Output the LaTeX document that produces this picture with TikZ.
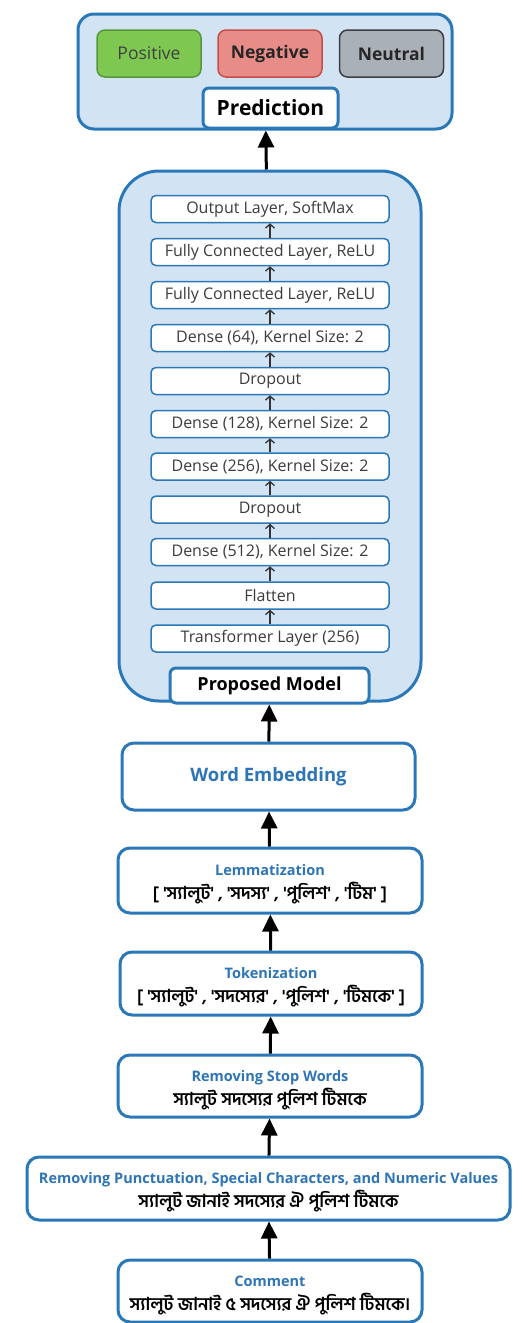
\documentclass[tikz,border=0pt]{standalone}
\usepackage{fontspec}
\setmainfont{Open Sans}
\newfontfamily\bnfont[Script=Bengali]{Hind Siliguri}
\usetikzlibrary{arrows.meta}

\definecolor{edgeblue}{RGB}{43,120,184}
\definecolor{boxfill}{RGB}{210,228,244}
\definecolor{titleblue}{RGB}{46,117,182}
\definecolor{textgray}{RGB}{60,60,60}
\definecolor{posfill}{RGB}{126,200,82}
\definecolor{posedge}{RGB}{88,150,60}
\definecolor{negfill}{RGB}{232,140,135}
\definecolor{negedge}{RGB}{196,78,74}
\definecolor{neufill}{RGB}{170,176,184}
\definecolor{neuedge}{RGB}{60,64,70}

\newcommand{\stagetitle}[1]{{\rule{0pt}{19pt}\bfseries\color{titleblue}#1}}
\newcommand{\bnline}[1]{{\bnfont\bfseries\fontsize{17.8}{20}\selectfont #1}}

\tikzset{
  layer/.style={draw=edgeblue, line width=1.5pt, fill=white, rounded corners=5pt,
    minimum width=238pt, minimum height=27pt, inner sep=0pt,
    font=\fontsize{16}{18}\selectfont, text=textgray},
  stage/.style={draw=edgeblue, line width=3pt, fill=white, rounded corners=12pt,
    minimum width=304pt, minimum height=63pt, inner sep=0pt, align=center,
    font=\fontsize{14.5}{24}\selectfont},
  label/.style={draw, line width=1.5pt, rounded corners=8pt, minimum width=104pt,
    minimum height=47pt, inner sep=0pt, font=\fontsize{17.5}{19}\selectfont},
  bigarrow/.style={line width=3pt, -{Triangle[length=17pt,width=16pt]}},
  smallarrow/.style={line width=1.3pt, draw=black!80, -{Straight Barb[length=4pt,width=9pt]}},
}

\begin{document}
\begin{tikzpicture}[x=1pt, y=-1pt]
\useasboundingbox (0,0) rectangle (522,1323);

% prediction block
\node[draw=edgeblue, fill=boxfill, line width=3pt, rounded corners=16pt,
  minimum width=374pt, minimum height=115pt] (out) at (265,71.5) {};
\node[label, draw=posedge, fill=posfill, text=black!75] (pos) at (149,53.5) {Positive};
\node[label, draw=negedge, fill=negfill, font=\fontsize{17.5}{19}\selectfont\bfseries, text=black!85] (neg) at (270,53.5) {Negative};
\node[label, draw=neuedge, fill=neufill, font=\fontsize{17.5}{19}\selectfont\bfseries, text=black!85] (neu) at (391.5,53.5) {Neutral};
\node[draw=edgeblue, fill=white, line width=3pt, rounded corners=6pt,
  minimum width=135pt, minimum height=40pt, inner sep=0pt,
  font=\fontsize{21}{23}\selectfont\bfseries] (pred) at (270.5,108) {Prediction};

% proposed model
\node[draw=edgeblue, fill=boxfill, line width=3pt, rounded corners=40pt,
  minimum width=302pt, minimum height=530pt] (model) at (270,436) {};
\node[layer] (l11) at (270,209) {Output Layer, SoftMax};
\node[layer] (l10) at (270,252) {Fully Connected Layer, ReLU};
\node[layer] (l9) at (270,295) {Fully Connected Layer, ReLU};
\node[layer] (l8) at (270,338) {Dense (64), Kernel Size: 2};
\node[layer] (l7) at (270,381) {Dropout};
\node[layer] (l6) at (270,424) {Dense (128), Kernel Size: 2};
\node[layer] (l5) at (270,466.5) {Dense (256), Kernel Size: 2};
\node[layer] (l4) at (270,509.5) {Dropout};
\node[layer] (l3) at (270,552) {Dense (512), Kernel Size: 2};
\node[layer] (l2) at (270,595.5) {Flatten};
\node[layer] (l1) at (270,638.5) {Transformer Layer (256)};
\node[draw=edgeblue, fill=white, line width=3pt, rounded corners=6pt,
  minimum width=199pt, minimum height=35pt, inner sep=0pt,
  font=\fontsize{18}{20}\selectfont\bfseries] (pm) at (269.5,685.5) {Proposed Model};

\path[smallarrow] (l1) -- (l2);
\path[smallarrow] (l2) -- (l3);
\path[smallarrow] (l3) -- (l4);
\path[smallarrow] (l4) -- (l5);
\path[smallarrow] (l5) -- (l6);
\path[smallarrow] (l6) -- (l7);
\path[smallarrow] (l7) -- (l8);
\path[smallarrow] (l8) -- (l9);
\path[smallarrow] (l9) -- (l10);
\path[smallarrow] (l10) -- (l11);

% preprocessing stages
\node[stage, minimum width=293pt, minimum height=67pt,
  font=\fontsize{18.5}{20}\selectfont\bfseries, text=titleblue] (emb) at (268.5,776.5) {Word Embedding};
\node[stage, minimum height=65pt] (lem) at (270,880.5)
  {\stagetitle{Lemmatization}\\\bnline{[ 'স্যালুট' , 'সদস্য' , 'পুলিশ' , 'টিম' ]}};
\node[stage, minimum width=302pt] (tok) at (271,983.5)
  {\stagetitle{Tokenization}\\\bnline{[ 'স্যালুট' , 'সদস্যের' , 'পুলিশ' , 'টিমকে' ]}};
\node[stage, minimum height=62pt] (stop) at (270,1086)
  {\stagetitle{Removing Stop Words}\\\bnline{স্যালুট সদস্যের পুলিশ টিমকে}};
\node[stage, minimum width=483pt] (punct) at (268.5,1188.5)
  {\stagetitle{Removing Punctuation, Special Characters, and Numeric Values}\\\bnline{স্যালুট জানাই সদস্যের ঐ পুলিশ টিমকে}};
\node[stage, minimum height=62pt] (com) at (270,1291)
  {\stagetitle{Comment}\\\bnline{স্যালুট জানাই ৫ সদস্যের ঐ পুলিশ টিমকে।}};

\path[draw,bigarrow] (com) -- (punct);
\path[draw,bigarrow] (punct) -- (stop);
\path[draw,bigarrow] (stop) -- (tok);
\path[draw,bigarrow] (tok) -- (lem);
\path[draw,bigarrow] (lem) -- (emb);
\path[draw,bigarrow] (emb) -- (pm);
\path[draw,bigarrow] (model) -- (out);
\end{tikzpicture}
\end{document}
